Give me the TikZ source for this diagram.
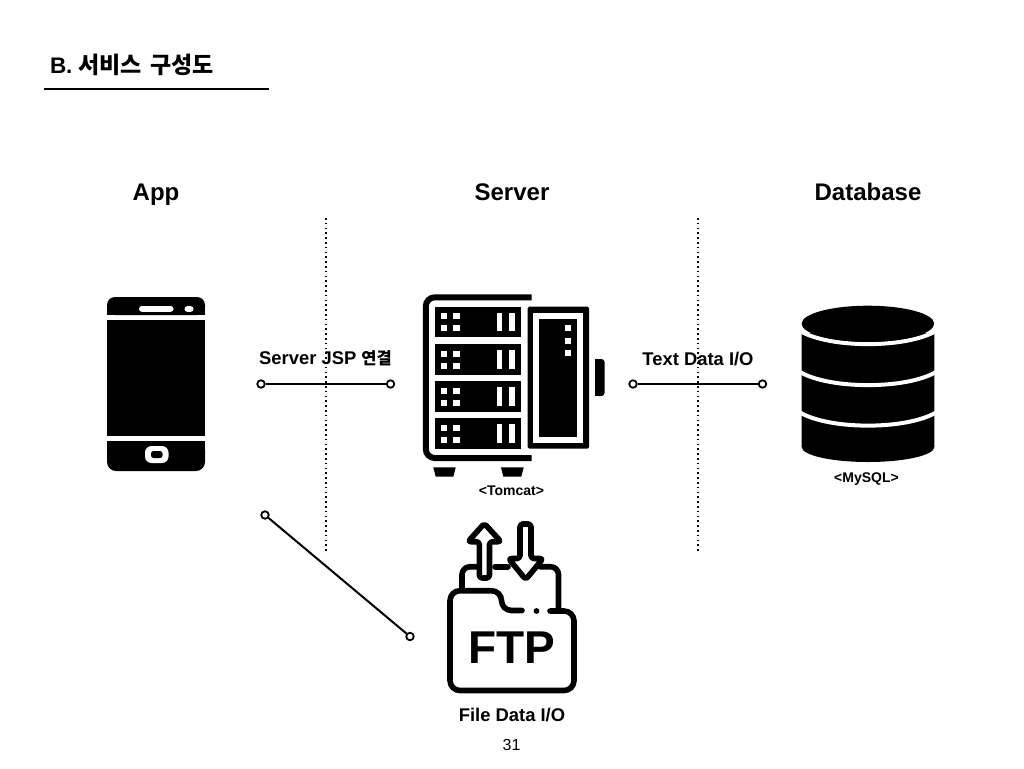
\documentclass[tikz,border=0pt]{standalone}
\usepackage{fontspec}
\setmainfont{Liberation Sans}
\newfontfamily\cjk{Noto Sans CJK KR}
\newcommand{\hb}[1]{{\bfseries\cjk #1}}
\tikzset{
  txt/.style={inner sep=0pt,outer sep=0pt,text=black,font=\bfseries},
  head/.style={txt,font=\fontsize{24}{28}\selectfont\bfseries},
  lab/.style={txt,font=\fontsize{18.4}{20}\selectfont\bfseries},
  small/.style={txt,font=\fontsize{14}{16}\selectfont\bfseries},
  endpt/.style={circle,draw=black,fill=white,line width=1.8pt,minimum size=7.5pt,inner sep=0pt},
  link/.style={black,line width=2pt},
  divider/.style={black,line width=1.6pt,dash pattern=on 1.6pt off 3.2pt},
  ftpline/.style={black,line width=5.6pt,line cap=round,line join=round},
}
\begin{document}
\begin{tikzpicture}[x=1pt,y=-1pt]
\useasboundingbox (0,0) rectangle (1024,768);
\fill[white] (0,0) rectangle (1024,768);

% title
\node[txt,anchor=base west,font=\fontsize{22.5}{26}\selectfont\bfseries] (title) at (50,73) {B.\hspace{6pt}{\fontsize{23}{26}\selectfont\hb{서비스\hspace{3pt} 구성도}}};
\coordinate (ruleA) at (44,88.5);
\coordinate (ruleB) at (269,88.5);
\draw[black,line width=2pt] (ruleA) -- (ruleB);

% column heads
\node[head,anchor=base] (happ) at (156,200) {App};
\node[head,anchor=base] (hserver) at (512,200) {Server};
\node[head,anchor=base] (hdb) at (868,200) {Database};

% dividers
\coordinate (d1a) at (326,218);
\coordinate (d1b) at (326,551);
\coordinate (d2a) at (698,218);
\coordinate (d2b) at (698,551);
\draw[divider] (d1a) -- (d1b);
\draw[divider] (d2a) -- (d2b);

% phone
\fill[black,rounded corners=8pt] (107,297) -- (205,297) -- (205,315) -- (107,315) -- cycle;
\fill[black] (107,308) rectangle (205,315);
\fill[black] (107,320) rectangle (205,436);
\fill[black,rounded corners=9pt] (107,441) -- (205,441) -- (205,471) -- (107,471) -- cycle;
\fill[black] (107,441) rectangle (205,452);
\fill[white,rounded corners=2.8pt] (139,306) rectangle (173.5,311.8);
\fill[white,rounded corners=2.8pt] (184.5,306.2) rectangle (193.5,311.8);
\fill[white,rounded corners=6.5pt] (145,446) rectangle (168.5,463);
\fill[black,rounded corners=2.5pt] (151,451) rectangle (162.5,458);

% server
\draw[black,line width=6pt,rounded corners=9pt] (531.5,297.3) -- (425.8,297.3) -- (425.8,458) -- (531.5,458);
\foreach \sy in {306.7,343.8,381,418}{
  \fill[black] (435,\sy) rectangle (521,\sy+30.7);
  \foreach \qx in {441,453.3}{
    \foreach \qy in {6.7,18.7}{
      \fill[white] (\qx,\sy+\qy) rectangle (\qx+6.4,\sy+\qy+6);
    }
  }
  \fill[white] (496.7,\sy+6.3) rectangle (502.4,\sy+24.7);
  \fill[white] (509,\sy+6.3) rectangle (515,\sy+24.7);
}
\fill[black,rounded corners=1.5pt] (527.7,306.7) rectangle (589,448.7);
\fill[white] (533.3,313.3) rectangle (582.7,442.7);
\fill[black] (539.3,319.3) rectangle (576.7,436.7);
\foreach \qy in {325.3,337.7,350}{
  \fill[white] (564.7,\qy) rectangle (570.7,\qy+6);
}
\fill[black,rounded corners=3pt] (595,359) -- (604.5,359) -- (604.5,396) -- (595,396) -- cycle;
\fill[black] (595,359) rectangle (599,396);
\fill[black] (433.3,467.3) -- (455.7,467.3) -- (453.3,476.7) -- (435.7,476.7) -- cycle;
\fill[black] (501,467.3) -- (523.7,467.3) -- (521.3,476.7) -- (503.3,476.7) -- cycle;
\node[small,anchor=base] (tomcat) at (511.5,495) {<Tomcat>};

% database
\fill[black] (801.7,333) -- (934.3,333) -- (934.3,447)
  arc[start angle=0,end angle=180,x radius=66.3,y radius=15] -- cycle;
\foreach \by in {331,372,412.5}{
  \draw[white,line width=4pt] (800,\by) .. controls (830,\by+17.5) and (906,\by+17.5) .. (936,\by);
}
\fill[white] (800,325) rectangle (936,331);
\fill[black] (867.9,323.7) ellipse[x radius=66.3,y radius=18];
\node[small,anchor=base] (mysql) at (866.5,482) {<MySQL>};

% ftp: back folder
\draw[ftpline,rounded corners=8pt] (462,588) -- (462,566.7) -- (480,566.7);
\draw[ftpline] (495,566.7) -- (508,566.7);
\draw[ftpline,rounded corners=8pt] (540,566.7) -- (558.5,566.7) -- (558.5,608);
% ftp: front folder
\draw[ftpline,rounded corners=10pt] (522,610.5) -- (501.5,610.5) -- (501.5,590.7) -- (450,590.7) -- (450,690.5) -- (574,690.5) -- (574,611) -- (550,611);
\fill[black] (536.5,611) circle[radius=2.9pt];
% up arrow
\draw[ftpline,fill=white,rounded corners=3pt] (484.3,523.5) -- (501,541.7) -- (489.5,541.7) -- (489.5,578) -- (479.3,578) -- (479.3,541.7) -- (468,541.7) -- cycle;
% down arrow
\draw[ftpline,fill=white,rounded corners=3pt] (525.5,524) -- (531,524) -- (531,558.5) -- (543,558.5) -- (525.7,579.5) -- (508.5,558.5) -- (520,558.5) -- (520,524) -- cycle;
\node[txt,anchor=base,font=\fontsize{46}{50}\selectfont\bfseries] (ftp) at (511.5,663) {FTP};
\node[lab,anchor=base] (filedata) at (512,721) {File Data I/O};

% connector labels
\node[lab,anchor=base] (jsp) at (325.5,364) {Server JSP {\fontsize{16.5}{20}\selectfont\hb{연결}}};
\node[lab,anchor=base] (textio) at (698,365) {Text Data I/O};

% connectors
\node[endpt] (a1) at (261,384) {};
\node[endpt] (a2) at (390.5,384) {};
\node[endpt] (b1) at (633,384) {};
\node[endpt] (b2) at (762.5,384) {};
\node[endpt] (c1) at (265,515) {};
\node[endpt] (c2) at (410,636.5) {};
\draw[link] (a1) -- (a2);
\draw[link] (b1) -- (b2);
\draw[link] (c1) -- (c2);

\node[txt,anchor=base,font=\fontsize{16}{20}\selectfont\mdseries] (page) at (511.5,750) {31};
\end{tikzpicture}
\end{document}
